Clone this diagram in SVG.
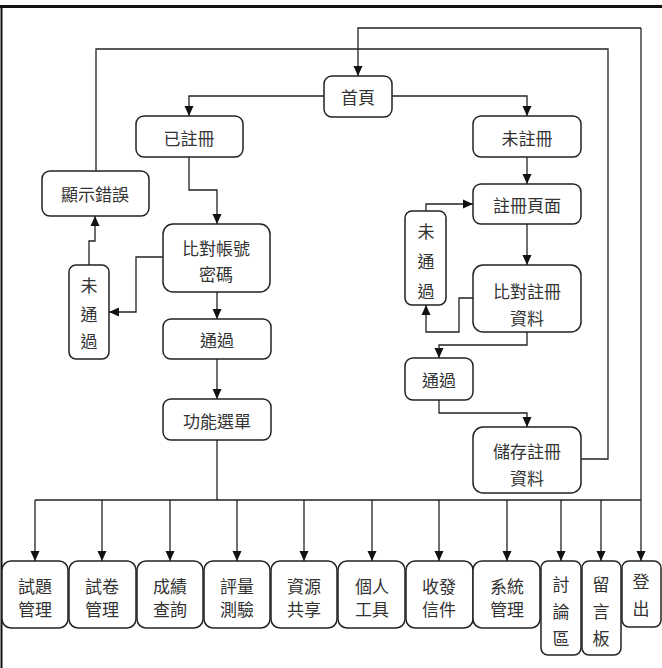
<svg xmlns="http://www.w3.org/2000/svg" width="662" height="668" viewBox="0 0 662 668">
<defs>
<marker id="arr" markerUnits="userSpaceOnUse" markerWidth="10" markerHeight="10" refX="10" refY="5" orient="auto">
<path d="M0,0.5 L10,5 L0,9.5 z" fill="#111"/>
</marker>
<style>
.box{fill:#fff;stroke:#222;stroke-width:1.5}
.t{font-family:"Noto Sans CJK TC","Noto Sans CJK SC",sans-serif;font-size:17px;fill:#333;text-anchor:middle;dominant-baseline:central}
.c{fill:none;stroke:#222;stroke-width:1.3}
.a{marker-end:url(#arr)}
</style>
</defs>
<rect x="0" y="0" width="662" height="668" fill="#fff"/>
<line x1="0" y1="6.5" x2="662" y2="6.5" stroke="#111" stroke-width="3"/>
<line x1="1.5" y1="6" x2="1.5" y2="668" stroke="#111" stroke-width="2"/>

<g id="connectors">
<path class="c a" d="M324,96 H189 V116"/>
<path class="c a" d="M392,96 H527 V116"/>
<path class="c a" d="M641,28 H358 V76"/>
<path class="c a" d="M641,28 V561"/>
<path class="c" d="M581,459 H608 V49 H96 V171"/>
<path class="c a" d="M189,157 V190 H217 V224"/>
<path class="c a" d="M163,257 H136 V312 H109"/>
<path class="c a" d="M89,265 V241 H95 V216"/>
<path class="c a" d="M217,292 V319"/>
<path class="c a" d="M217,359 V399"/>
<path class="c" d="M217,440 V500" stroke-width="2.2"/>
<path class="c" d="M35,500 H641"/>
<path class="c a" d="M35,500 V561"/>
<path class="c a" d="M102,500 V561"/>
<path class="c a" d="M170,500 V561"/>
<path class="c a" d="M237,500 V561"/>
<path class="c a" d="M304,500 V561"/>
<path class="c a" d="M372,500 V561"/>
<path class="c a" d="M439,500 V561"/>
<path class="c a" d="M507,500 V561"/>
<path class="c a" d="M561,500 V561"/>
<path class="c a" d="M601,500 V561"/>
<path class="c a" d="M527,157 V184"/>
<path class="c a" d="M527,224 V265"/>
<path class="c a" d="M473,298 H459 V332 H426 V305"/>
<path class="c a" d="M426,211 V204 H473"/>
<path class="c a" d="M527,332 V345 H439 V358"/>
<path class="c a" d="M439,400 V413 H527 V427"/>
</g>

<g id="home"><rect class="box" x="324" y="76" width="68" height="41" rx="8"/><text class="t" x="358" y="96">首頁</text></g>
<g id="registered"><rect class="box" x="136" y="116" width="107" height="41" rx="8"/><text class="t" x="189" y="137">已註冊</text></g>
<g id="unregistered"><rect class="box" x="473" y="116" width="108" height="41" rx="8"/><text class="t" x="527" y="137">未註冊</text></g>
<g id="show-error"><rect class="box" x="42" y="171" width="107" height="45" rx="8"/><text class="t" x="95" y="193">顯示錯誤</text></g>
<g id="check-account"><rect class="box" x="163" y="224" width="107" height="68" rx="10"/><text class="t" x="216" y="247">比對帳號</text><text class="t" x="216" y="273">密碼</text></g>
<g id="fail-left"><rect class="box" x="69" y="265" width="40" height="94" rx="7"/><text class="t" x="89" y="284">未</text><text class="t" x="89" y="313">通</text><text class="t" x="89" y="340">過</text></g>
<g id="pass-left"><rect class="box" x="163" y="319" width="108" height="40" rx="8"/><text class="t" x="217" y="339">通過</text></g>
<g id="menu"><rect class="box" x="163" y="399" width="108" height="41" rx="8"/><text class="t" x="217" y="420">功能選單</text></g>
<g id="reg-page"><rect class="box" x="473" y="184" width="108" height="40" rx="8"/><text class="t" x="527" y="204">註冊頁面</text></g>
<g id="check-reg"><rect class="box" x="473" y="265" width="108" height="67" rx="10"/><text class="t" x="527" y="290">比對註冊</text><text class="t" x="527" y="317">資料</text></g>
<g id="fail-right"><rect class="box" x="405" y="211" width="41" height="94" rx="7"/><text class="t" x="426" y="230">未</text><text class="t" x="426" y="260">通</text><text class="t" x="426" y="290">過</text></g>
<g id="pass-right"><rect class="box" x="405" y="358" width="68" height="42" rx="8"/><text class="t" x="439" y="379">通過</text></g>
<g id="save-reg"><rect class="box" x="473" y="427" width="108" height="66" rx="10"/><text class="t" x="527" y="450">儲存註冊</text><text class="t" x="527" y="477">資料</text></g>

<g id="m1"><rect class="box" x="2" y="561" width="66" height="67" rx="9"/><text class="t" x="35" y="585">試題</text><text class="t" x="35" y="608">管理</text></g>
<g id="m2"><rect class="box" x="69" y="561" width="67" height="67" rx="9"/><text class="t" x="102" y="585">試卷</text><text class="t" x="102" y="608">管理</text></g>
<g id="m3"><rect class="box" x="137" y="561" width="66" height="67" rx="9"/><text class="t" x="170" y="585">成績</text><text class="t" x="170" y="608">查詢</text></g>
<g id="m4"><rect class="box" x="204" y="561" width="66" height="67" rx="9"/><text class="t" x="237" y="585">評量</text><text class="t" x="237" y="608">測驗</text></g>
<g id="m5"><rect class="box" x="271" y="561" width="66" height="67" rx="9"/><text class="t" x="304" y="585">資源</text><text class="t" x="304" y="608">共享</text></g>
<g id="m6"><rect class="box" x="338" y="561" width="67" height="67" rx="9"/><text class="t" x="372" y="585">個人</text><text class="t" x="372" y="608">工具</text></g>
<g id="m7"><rect class="box" x="406" y="561" width="67" height="67" rx="9"/><text class="t" x="439" y="585">收發</text><text class="t" x="439" y="608">信件</text></g>
<g id="m8"><rect class="box" x="473" y="561" width="67" height="67" rx="9"/><text class="t" x="507" y="585">系統</text><text class="t" x="507" y="608">管理</text></g>
<g id="m9"><rect class="box" x="541" y="561" width="40" height="94" rx="7"/><text class="t" x="561" y="583">討</text><text class="t" x="561" y="610">論</text><text class="t" x="561" y="637">區</text></g>
<g id="m10"><rect class="box" x="582" y="561" width="39" height="94" rx="7"/><text class="t" x="601" y="583">留</text><text class="t" x="601" y="610">言</text><text class="t" x="601" y="637">板</text></g>
<g id="m11"><rect class="box" x="622" y="561" width="39" height="66" rx="7"/><text class="t" x="641" y="580">登</text><text class="t" x="641" y="607">出</text></g>
</svg>
